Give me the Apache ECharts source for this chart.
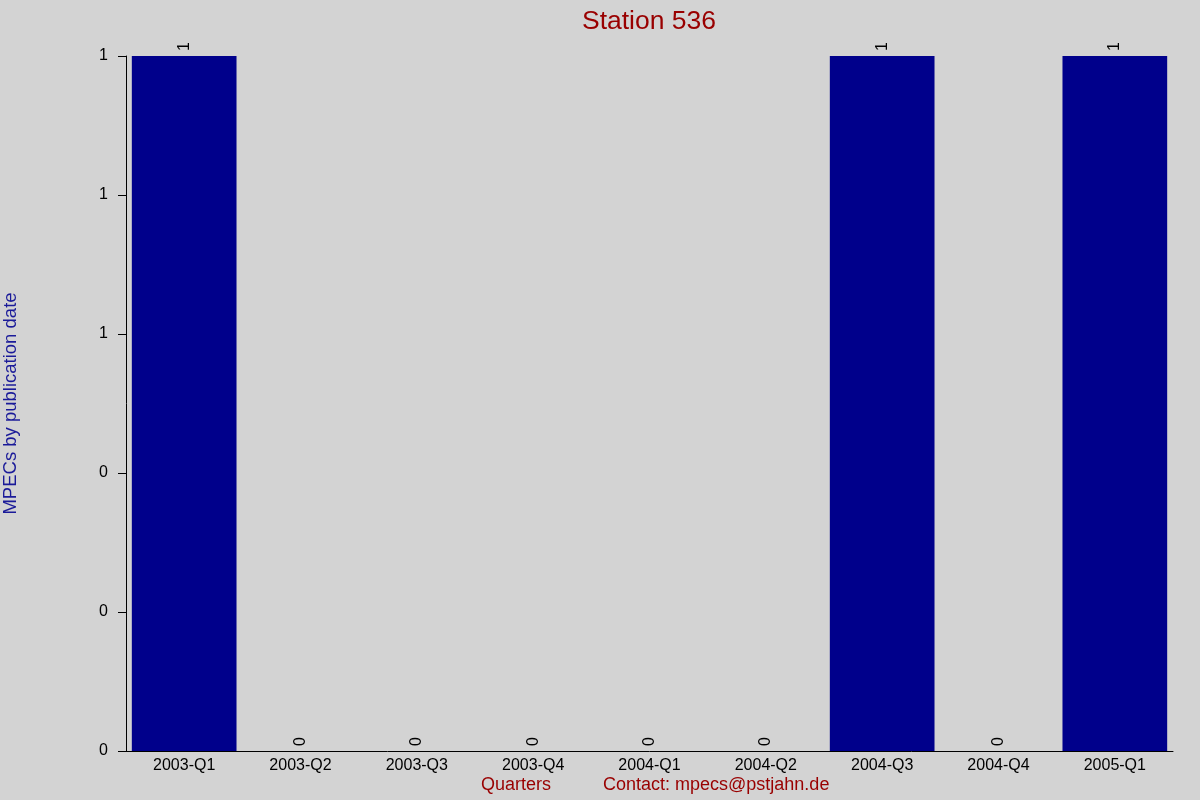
<!DOCTYPE html>
<html>
<head>
<meta charset="utf-8">
<script src="https://cdn.jsdelivr.net/npm/echarts@6/dist/echarts.min.js"></script>
<style>
  html, body { margin: 0; padding: 0; background: #d3d3d3; }
  #main { width: 1200px; height: 800px; }
</style>
</head>
<body>
<div id="main"></div>
<script>
  // quarters and MPEC counts for the station
  var quarters = ['2003-Q1', '2003-Q2', '2003-Q3', '2003-Q4', '2004-Q1',
                  '2004-Q2', '2004-Q3', '2004-Q4', '2005-Q1'];
  var counts = [1, 0, 0, 0, 0, 0, 1, 0, 1];

  var myChart = echarts.init(document.getElementById('main'));
  var font = 'Liberation Sans, Arial, sans-serif';

  var option = {
    backgroundColor: '#d3d3d3',
    animation: false,
    title: {
      text: 'Station 536',
      left: 644,
      top: 3,
      textAlign: 'center',
      textStyle: { color: '#990000', fontSize: 26.5, fontWeight: 'normal', fontFamily: font }
    },
    grid: { left: 126, right: 27, top: 56, bottom: 49, containLabel: false, outerBoundsMode: 'none' },
    xAxis: {
      type: 'category',
      data: quarters,
      axisLine: { lineStyle: { color: '#000', width: 1 } },
      axisTick: { show: false },
      axisLabel: { color: '#000', fontSize: 16, fontFamily: font, margin: 7, interval: 0 }
    },
    yAxis: {
      type: 'value',
      min: 0,
      max: 1,
      interval: 0.2,
      name: 'MPECs by publication date',
      nameLocation: 'middle',
      nameGap: 106,
      nameTextStyle: { color: '#1a1a99', fontSize: 18.5, fontFamily: font },
      splitLine: { show: false },
      axisLine: { show: true, lineStyle: { color: '#000', width: 1 } },
      axisTick: { show: true, length: 8, lineStyle: { color: '#000' } },
      axisLabel: {
        color: '#000', fontSize: 16, fontFamily: font, margin: 18,
        formatter: function (v) { return String(Math.round(v)); }
      }
    },
    graphic: [
      {
        type: 'text', left: 481, top: 776,
        style: { text: 'Quarters', fill: '#990000', fontSize: 18, fontFamily: font }
      },
      {
        type: 'text', left: 603, top: 776,
        style: { text: 'Contact: mpecs@pstjahn.de', fill: '#990000', fontSize: 18, fontFamily: font }
      }
    ],
    series: [{
      type: 'bar',
      data: counts,
      barCategoryGap: '10%',
      itemStyle: { color: '#00008b' },
      label: {
        show: true,
        position: 'top',
        rotate: 90,
        align: 'left',
        verticalAlign: 'middle',
        distance: 5,
        color: '#000',
        fontSize: 16,
        fontFamily: font
      }
    }]
  };
  myChart.setOption(option);
</script>
</body>
</html>
